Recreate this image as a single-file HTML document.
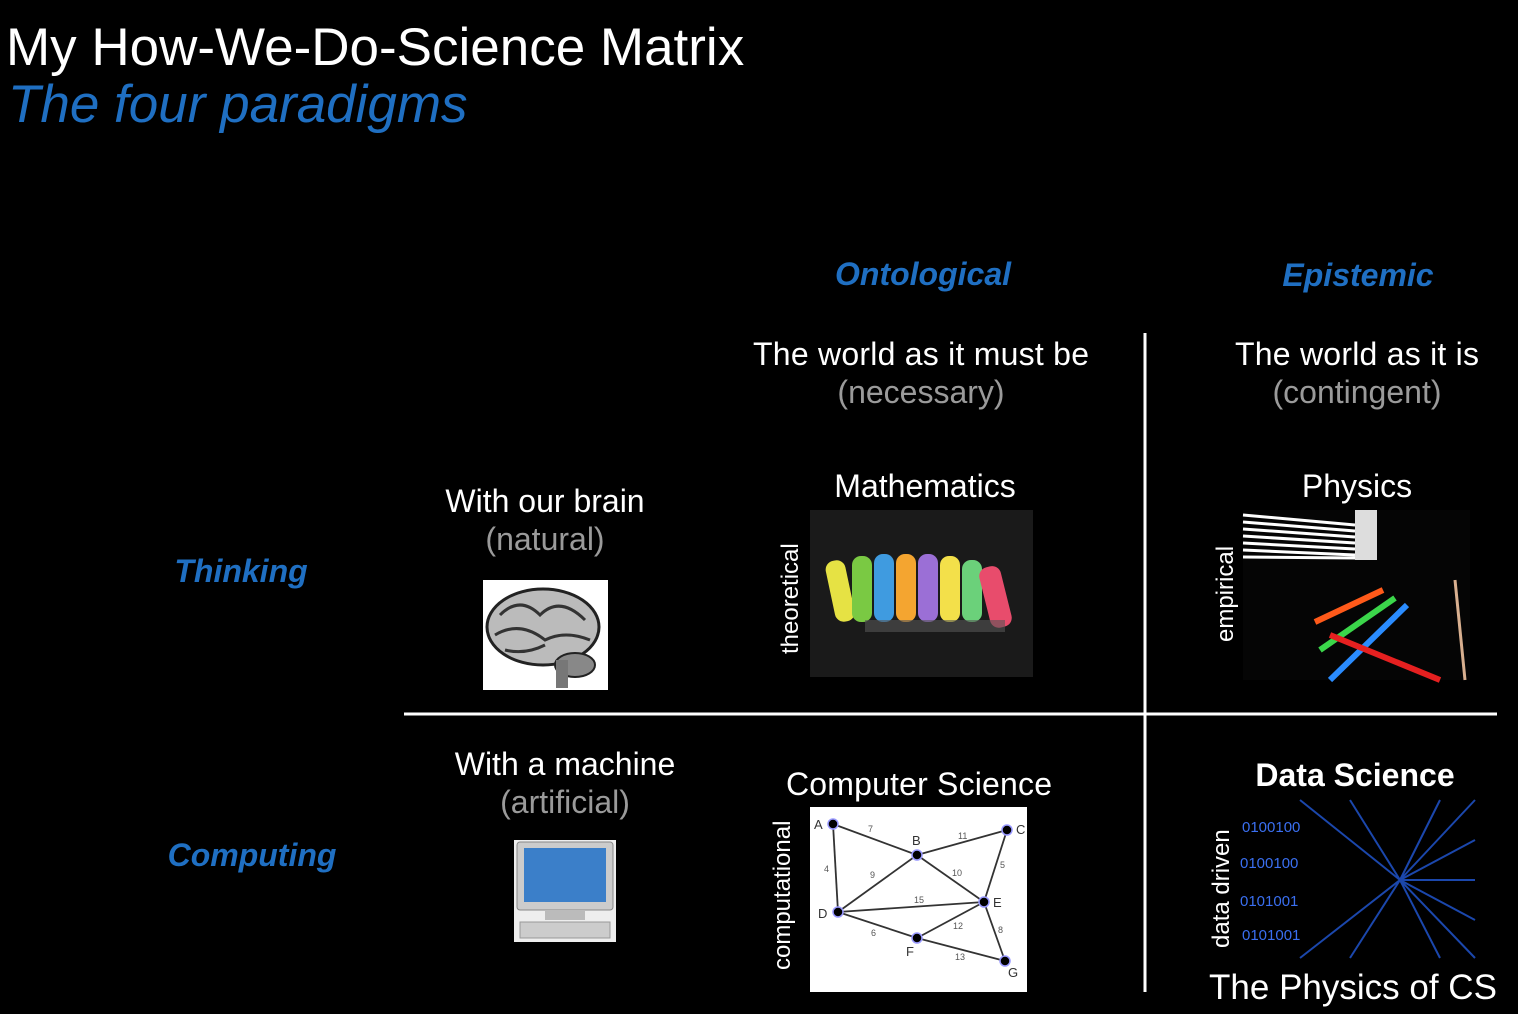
<!DOCTYPE html>
<html><head><style>
html,body{margin:0;padding:0;background:#000;}
svg{display:block}
text{font-family:"Liberation Sans",sans-serif;}
</style></head><body>
<svg width="1518" height="1014" viewBox="0 0 1518 1014" xmlns="http://www.w3.org/2000/svg">
<rect width="1518" height="1014" fill="#000"/>
<text x="6" y="65" font-size="53" fill="#fff">My How-We-Do-Science Matrix</text>
<text x="8" y="122" font-size="53" fill="#1f6fc2" font-style="italic">The four paradigms</text>

<g font-weight="bold" font-style="italic" fill="#1f6fc2" font-size="32" text-anchor="middle">
<text x="923" y="285">Ontological</text>
<text x="1358" y="286">Epistemic</text>
<text x="241" y="582">Thinking</text>
<text x="252" y="866">Computing</text>
</g>

<g font-size="32" text-anchor="middle" fill="#fff">
<text x="921" y="365" textLength="336">The world as it must be</text>
<text x="921" y="403" fill="#9a9a9a">(necessary)</text>
<text x="1357" y="365" textLength="244">The world as it is</text>
<text x="1357" y="403" fill="#9a9a9a">(contingent)</text>
<text x="545" y="512">With our brain</text>
<text x="545" y="550" fill="#9a9a9a">(natural)</text>
<text x="565" y="775">With a machine</text>
<text x="565" y="813" fill="#9a9a9a">(artificial)</text>
<text x="925" y="497">Mathematics</text>
<text x="1357" y="497">Physics</text>
<text x="919" y="795" textLength="266">Computer Science</text>
<text x="1355" y="786" font-weight="bold">Data Science</text>
<text x="1353" y="999" font-size="35">The Physics of CS</text>
</g>

<g font-size="24" fill="#fff">
<text transform="translate(798,654) rotate(-90)">theoretical</text>
<text transform="translate(1233,642) rotate(-90)">empirical</text>
<text transform="translate(790,970) rotate(-90)">computational</text>
<text transform="translate(1229,948) rotate(-90)">data driven</text>
</g>

<line x1="404" y1="714" x2="1497" y2="714" stroke="#fff" stroke-width="3"/>
<line x1="1145" y1="333" x2="1145" y2="992" stroke="#fff" stroke-width="3"/>

<!-- brain -->
<rect x="483" y="580" width="125" height="110" fill="#fff"/>
<ellipse cx="543" cy="627" rx="56" ry="38" fill="#bbb" stroke="#222" stroke-width="3"/>
<path d="M500 615 q20 -20 40 0 q20 -20 45 5 M495 635 q25 -15 50 5 q20 -10 45 0 M505 650 q20 5 40 -5" stroke="#333" stroke-width="3" fill="none"/>
<ellipse cx="575" cy="665" rx="20" ry="12" fill="#888" stroke="#222" stroke-width="2"/>
<rect x="556" y="660" width="12" height="28" fill="#777"/>

<!-- chalk -->
<rect x="810" y="510" width="223" height="167" fill="#1a1a1a"/>
<g>
<rect x="830" y="560" width="20" height="62" rx="9" fill="#e6e244" transform="rotate(-12 840 590)"/>
<rect x="852" y="556" width="20" height="66" rx="9" fill="#7ac943"/>
<rect x="874" y="554" width="20" height="68" rx="9" fill="#3f9be0"/>
<rect x="896" y="554" width="20" height="68" rx="9" fill="#f4a530"/>
<rect x="918" y="554" width="20" height="68" rx="9" fill="#9b6fd6"/>
<rect x="940" y="556" width="20" height="66" rx="9" fill="#f3e04a"/>
<rect x="962" y="560" width="20" height="62" rx="9" fill="#6bd17a"/>
<rect x="984" y="566" width="22" height="62" rx="9" fill="#e84c6c" transform="rotate(-14 995 595)"/>
<rect x="865" y="620" width="140" height="12" fill="#555" opacity=".6"/>
</g>

<!-- physics -->
<rect x="1243" y="510" width="227" height="170" fill="#050505"/>
<g stroke="#fff" stroke-width="3">
<line x1="1243" y1="515" x2="1355" y2="525"/><line x1="1243" y1="522" x2="1355" y2="531"/>
<line x1="1243" y1="529" x2="1355" y2="537"/><line x1="1243" y1="536" x2="1355" y2="543"/>
<line x1="1243" y1="543" x2="1355" y2="549"/><line x1="1243" y1="550" x2="1355" y2="555"/>
<line x1="1243" y1="557" x2="1355" y2="558"/>
</g>
<rect x="1355" y="510" width="22" height="50" fill="#ddd"/>
<g stroke-width="6" fill="none">
<line x1="1383" y1="590" x2="1315" y2="622" stroke="#ff5a1a"/>
<line x1="1395" y1="598" x2="1320" y2="650" stroke="#3bd64a"/>
<line x1="1407" y1="605" x2="1330" y2="680" stroke="#2a8cff"/>
<line x1="1330" y1="635" x2="1440" y2="680" stroke="#e62020"/>
<line x1="1455" y1="580" x2="1465" y2="680" stroke="#d9b090" stroke-width="3"/>
</g>

<!-- computer -->
<rect x="514" y="840" width="102" height="102" fill="#eee"/>
<rect x="517" y="842" width="96" height="68" rx="3" fill="#ccc" stroke="#888"/>
<rect x="524" y="848" width="82" height="54" fill="#3b7fc9"/>
<rect x="545" y="910" width="40" height="10" fill="#bbb"/>
<rect x="520" y="922" width="90" height="16" fill="#ccc" stroke="#999"/>

<!-- graph -->
<rect x="810" y="807" width="217" height="185" fill="#fff"/>
<g stroke="#333" stroke-width="1.8">
<line x1="833" y1="824" x2="917" y2="855"/><line x1="917" y1="855" x2="1007" y2="830"/>
<line x1="833" y1="824" x2="838" y2="912"/><line x1="838" y1="912" x2="917" y2="855"/>
<line x1="917" y1="855" x2="984" y2="902"/><line x1="1007" y1="830" x2="984" y2="902"/>
<line x1="838" y1="912" x2="984" y2="902"/><line x1="838" y1="912" x2="917" y2="938"/>
<line x1="917" y1="938" x2="984" y2="902"/><line x1="984" y1="902" x2="1005" y2="961"/>
<line x1="917" y1="938" x2="1005" y2="961"/>
</g>
<g fill="#000" stroke="#99f" stroke-width="1.5">
<circle cx="833" cy="824" r="5"/><circle cx="917" cy="855" r="5"/><circle cx="1007" cy="830" r="5"/>
<circle cx="838" cy="912" r="5"/><circle cx="984" cy="902" r="5"/><circle cx="917" cy="938" r="5"/><circle cx="1005" cy="961" r="5"/>
</g>
<g font-size="13" fill="#333">
<text x="814" y="829">A</text><text x="912" y="845">B</text><text x="1016" y="834">C</text>
<text x="818" y="918">D</text><text x="993" y="907">E</text><text x="906" y="956">F</text><text x="1008" y="977">G</text>
</g>
<g font-size="9" fill="#555">
<text x="868" y="832">7</text><text x="958" y="839">11</text><text x="824" y="872">4</text>
<text x="870" y="878">9</text><text x="952" y="876">10</text><text x="1000" y="868">5</text>
<text x="914" y="903">15</text><text x="871" y="936">6</text><text x="953" y="929">12</text>
<text x="998" y="933">8</text><text x="955" y="960">13</text>
</g>

<!-- data science -->
<rect x="1238" y="800" width="237" height="158" fill="#000"/>
<g stroke="#1f4fbf" stroke-width="2" opacity=".9">
<line x1="1400" y1="880" x2="1475" y2="800"/><line x1="1400" y1="880" x2="1475" y2="840"/>
<line x1="1400" y1="880" x2="1475" y2="880"/><line x1="1400" y1="880" x2="1475" y2="920"/>
<line x1="1400" y1="880" x2="1475" y2="958"/><line x1="1400" y1="880" x2="1440" y2="800"/>
<line x1="1400" y1="880" x2="1440" y2="958"/><line x1="1400" y1="880" x2="1300" y2="800"/>
<line x1="1400" y1="880" x2="1300" y2="958"/><line x1="1400" y1="880" x2="1350" y2="800"/>
<line x1="1400" y1="880" x2="1350" y2="958"/>
</g>
<g font-size="15" fill="#3a6ff0" font-family="Liberation Mono">
<text x="1242" y="832">0100100</text><text x="1240" y="868">0100100</text>
<text x="1240" y="906">0101001</text><text x="1242" y="940">0101001</text>
</g>
</svg>
</body></html>
